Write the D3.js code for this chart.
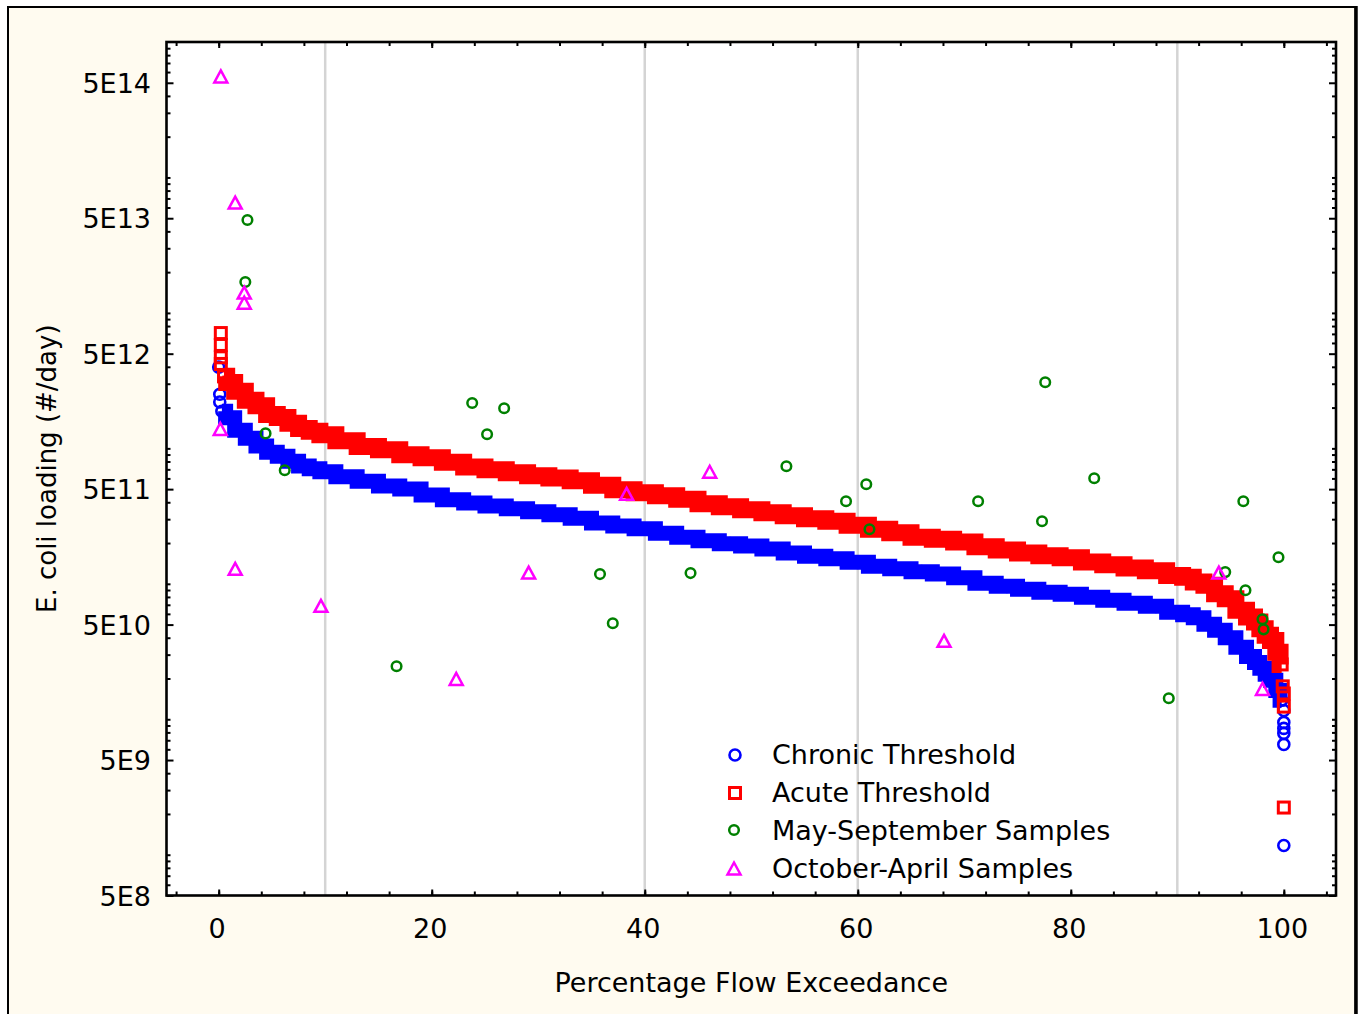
<!DOCTYPE html>
<html>
<head>
<meta charset="utf-8">
<script src="https://cdn.jsdelivr.net/npm/d3@7"></script>
<style>
body { margin: 0; background: #fff; }
svg text { font-family: "DejaVu Sans", sans-serif; fill: #000; }
</style>
</head>
<body>
<div id="chart"></div>
<script>
// load duration curves (percent flow exceedance, #/day)
var acutePct = [0.5, 1, 2, 3, 4, 5, 6, 7, 8, 9, 10, 12, 14, 16, 18, 20, 22, 24, 26, 28, 30, 32, 34, 36, 38, 40,
    42, 44, 46, 48, 50, 52, 54, 56, 58, 60, 62, 64, 66, 68, 70, 72, 74, 76, 78, 80, 82, 84, 86, 88, 90,
    91, 92, 93, 94, 95, 96, 97, 97.5, 98, 98.5, 99, 99.5, 99.8]
var acuteLoad = [3.4e12, 3.06e12, 2.64e12, 2.27e12, 2.06e12, 1.78e12, 1.69e12, 1.53e12, 1.40e12, 1.34e12,
    1.26e12, 1.14e12, 1.03e12, 9.78e11, 8.99e11, 8.54e11, 7.90e11, 7.28e11, 6.95e11, 6.61e11, 6.28e11,
    6.04e11, 5.77e11, 5.34e11, 4.95e11, 4.70e11, 4.47e11, 4.21e11, 3.90e11, 3.71e11, 3.52e11, 3.35e11,
    3.18e11, 3.02e11, 2.90e11, 2.71e11, 2.53e11, 2.38e11, 2.21e11, 2.13e11, 2.04e11, 1.88e11, 1.78e11,
    1.69e11, 1.61e11, 1.56e11, 1.45e11, 1.38e11, 1.31e11, 1.25e11, 1.15e11,
    1.12e11, 1.03e11, 9.75e10, 8.45e10, 7.76e10, 6.37e10, 5.68e10, 5.22e10, 4.66e10, 4.17e10, 3.82e10,
    3.12e10, 2.54e10]

var chronicPct = [0.3, 1, 2, 3, 4, 5, 6, 7, 8, 9, 10, 12, 14, 16, 18, 20, 22, 24, 26, 28, 30, 32, 34, 36, 38, 40,
    42, 44, 46, 48, 50, 52, 54, 56, 58, 60, 62, 64, 66, 68, 70, 72, 74, 76, 78, 80, 82, 84, 86, 88, 90,
    91, 92, 93, 94, 95, 96, 97, 97.5, 98, 98.5, 99, 99.5, 99.8]
var chronicLoad = [1.88e12, 1.68e12, 1.36e12, 1.19e12, 1.04e12, 9.37e11, 8.75e11, 8.04e11, 7.41e11, 7.07e11,
    6.72e11, 6.17e11, 5.72e11, 5.27e11, 5.01e11, 4.52e11, 4.17e11, 3.95e11, 3.75e11, 3.58e11, 3.40e11,
    3.23e11, 3.05e11, 2.81e11, 2.67e11, 2.55e11, 2.36e11, 2.21e11, 2.08e11, 1.98e11, 1.90e11, 1.81e11,
    1.69e11, 1.60e11, 1.53e11, 1.44e11, 1.35e11, 1.29e11, 1.23e11, 1.18e11, 1.11e11, 1.01e11, 9.58e10,
    9.11e10, 8.66e10, 8.37e10, 7.95e10, 7.55e10, 7.18e10, 6.82e10, 6.16e10,
    5.90e10, 5.61e10, 5.02e10, 4.54e10, 3.99e10, 3.40e10, 2.91e10, 2.63e10, 2.38e10, 2.15e10, 1.94e10,
    1.63e10, 1.38e10]

// isolated threshold points at both ends of the curves
var acuteTailPct = [0.2, 0.2, 0.2, 0.2, 99.9, 100, 100, 100]
var acuteTailLoad = [7.1e12, 5.8e12, 4.7e12, 4.2e12, 1.75e10, 1.55e10, 1.24e10, 2.23e9]
var chronicTailPct = [0, 0.1, 0.1, 100, 100, 100, 100, 100, 100]
var chronicTailLoad = [3.98e12, 2.51e12, 2.2e12, 1.16e10, 9.48e9, 8.56e9, 7.87e9, 6.52e9, 1.17e9]

// samples
var mayPct = [2.5, 2.7, 4.4, 6.2, 16.7, 23.8, 25.2, 26.8, 35.8, 37.0, 44.3, 53.3, 58.9, 60.8, 61.1, 71.3,
    77.3, 77.6, 82.2, 89.2, 94.5, 96.2, 96.4, 98.0, 98.1, 99.5]
var mayLoad = [1.69e13, 4.85e13, 1.29e12, 6.89e11, 2.46e10, 2.16e12, 1.27e12, 1.98e12, 1.18e11, 5.11e10,
    1.20e11, 7.38e11, 4.07e11, 5.44e11, 2.53e11, 4.07e11, 2.90e11, 3.08e12, 6.02e11, 1.43e10, 1.22e11,
    4.07e11, 8.96e10, 5.47e10, 4.61e10, 1.57e11]
var octPct = [0.15, 0.2, 1.55, 1.55, 2.4, 2.4, 9.6, 22.3, 29.1, 38.3, 46.1, 68.1, 93.9, 98.0]
var octLoad = [1.38e12, 5.52e14, 6.47e13, 1.28e11, 1.40e13, 1.18e13, 6.82e10, 1.97e10, 1.20e11, 4.58e11,
    6.66e11, 3.76e10, 1.20e11, 1.66e10]

var gridPct = [10, 40, 60, 90]
var xLabels = [0, 20, 40, 60, 80, 100]
var yLabels = [5e8, 5e9, 5e10, 5e11, 5e12, 5e13, 5e14]
var legendNames = ["Chronic Threshold", "Acute Threshold", "May-September Samples", "October-April Samples"]

var blue = "#0000ff", red = "#ff0000", green = "#008000", magenta = "#ff00ff"

var width = 1359, height = 1014
var plotLeft = 166.5, plotRight = 1336, plotTop = 42, plotBottom = 895.5

var svg = d3.select("#chart").append("svg")
    .attr("width", width)
    .attr("height", height)

// cream panel
svg.append("rect")
    .attr("x", 8).attr("y", 7)
    .attr("width", 1347.5).attr("height", 1030)
    .attr("fill", "#fffbf0")
    .attr("stroke", "#000")
    .attr("stroke-width", 2)
svg.append("line")
    .attr("x1", 1356).attr("x2", 1356).attr("y1", 6).attr("y2", height)
    .attr("stroke", "#000").attr("stroke-width", 3.5)

svg.append("rect")
    .attr("x", plotLeft).attr("y", plotTop)
    .attr("width", plotRight - plotLeft).attr("height", plotBottom - plotTop)
    .attr("fill", "#fff")

var x = d3.scaleLinear().domain([-4.9, 104.9]).range([plotLeft, plotRight])
var y = d3.scaleLog().domain([5e8, 1e15]).range([plotBottom, plotTop])

svg.append("g").selectAll("line")
    .data(gridPct)
    .enter().append("line")
    .attr("x1", d => x(d)).attr("x2", d => x(d))
    .attr("y1", plotTop).attr("y2", plotBottom)
    .attr("stroke", "#d4d4d4")
    .attr("stroke-width", 2.5)

// the thresholds are so many overlapping markers that they read as a stepped band
var bandLine = d3.line()
    .x(d => x(d[0]))
    .y(d => y(d[1]))
    .curve(d3.curveStep)

function drawCircles(data, color, r, sw) {
    svg.append("g").selectAll("circle")
        .data(data)
        .enter().append("circle")
        .attr("cx", d => x(d[0]))
        .attr("cy", d => y(d[1]))
        .attr("r", r)
        .attr("fill", "none")
        .attr("stroke", color)
        .attr("stroke-width", sw)
}

function drawSquares(data, color, s, sw) {
    svg.append("g").selectAll("rect")
        .data(data)
        .enter().append("rect")
        .attr("x", d => x(d[0]) - s / 2)
        .attr("y", d => y(d[1]) - s / 2)
        .attr("width", s).attr("height", s)
        .attr("fill", "none")
        .attr("stroke", color)
        .attr("stroke-width", sw)
}

var triangle = "M0,-6.5L6.5,5.5L-6.5,5.5Z"

function drawTriangles(data, color) {
    svg.append("g").selectAll("path")
        .data(data)
        .enter().append("path")
        .attr("transform", d => "translate(" + x(d[0]) + "," + y(d[1]) + ")")
        .attr("d", triangle)
        .attr("fill", "none")
        .attr("stroke", color)
        .attr("stroke-width", 2.5)
}

var chronic = d3.zip(chronicPct, chronicLoad)
var acute = d3.zip(acutePct, acuteLoad)

// chronic threshold (drawn first, acute sits on top)
svg.append("path").datum(chronic)
    .attr("d", bandLine)
    .attr("fill", "none")
    .attr("stroke", blue)
    .attr("stroke-width", 15)
drawCircles(chronic.concat(d3.zip(chronicTailPct, chronicTailLoad)), blue, 5.5, 2.6)

svg.append("path").datum(acute)
    .attr("d", bandLine)
    .attr("fill", "none")
    .attr("stroke", red)
    .attr("stroke-width", 17)
drawSquares(acute.concat(d3.zip(acuteTailPct, acuteTailLoad)), red, 11, 3)

drawCircles(d3.zip(mayPct, mayLoad), green, 4.8, 2.5)
drawTriangles(d3.zip(octPct, octLoad), magenta)

// axes, ticks point inward
function styleAxis(g) {
    g.select(".domain").remove()
    g.selectAll(".tick line").attr("stroke", "#000").attr("stroke-width", 2)
    g.selectAll(".tick text").attr("font-size", 27).attr("fill", "#000")
}

var xMinor = d3.range(-4, 105, 4)
var yMinor = []
d3.range(8, 15).forEach(function(e) {
    d3.range(1, 10).forEach(function(k) {
        var v = k * Math.pow(10, e)
        if (v >= 5e8 && v <= 1e15 && k !== 5) yMinor.push(v)
    })
})

svg.append("g").attr("transform", "translate(0," + plotBottom + ")")
    .call(d3.axisBottom(x).tickValues(xMinor).tickSize(-4).tickFormat(""))
    .call(styleAxis)
svg.append("g").attr("transform", "translate(0," + plotBottom + ")")
    .call(d3.axisBottom(x).tickValues(xLabels).tickSize(-6).tickPadding(23).tickFormat(d3.format("d")))
    .call(styleAxis)
    .selectAll(".tick text").attr("dx", "-2")
svg.append("g").attr("transform", "translate(0," + plotTop + ")")
    .call(d3.axisTop(x).tickValues(xMinor).tickSize(-4).tickFormat(""))
    .call(styleAxis)
svg.append("g").attr("transform", "translate(0," + plotTop + ")")
    .call(d3.axisTop(x).tickValues(xLabels).tickSize(-6).tickFormat(""))
    .call(styleAxis)

svg.append("g").attr("transform", "translate(" + plotLeft + ",0)")
    .call(d3.axisLeft(y).tickValues(yMinor).tickSize(-4).tickFormat(""))
    .call(styleAxis)
svg.append("g").attr("transform", "translate(" + plotLeft + ",0)")
    .call(d3.axisLeft(y).tickValues(yLabels).tickSize(-7).tickPadding(15.5)
        .tickFormat(d => "5E" + Math.round(Math.log10(d / 5))))
    .call(styleAxis)
    .selectAll(".tick text").attr("dy", "0.36em")
svg.append("g").attr("transform", "translate(" + plotRight + ",0)")
    .call(d3.axisRight(y).tickValues(yMinor).tickSize(-4).tickFormat(""))
    .call(styleAxis)
svg.append("g").attr("transform", "translate(" + plotRight + ",0)")
    .call(d3.axisRight(y).tickValues(yLabels).tickSize(-7).tickFormat(""))
    .call(styleAxis)

svg.append("rect")
    .attr("x", plotLeft).attr("y", plotTop)
    .attr("width", plotRight - plotLeft).attr("height", plotBottom - plotTop)
    .attr("fill", "none")
    .attr("stroke", "#000")
    .attr("stroke-width", 2.6)

// titles
svg.append("text")
    .attr("x", (plotLeft + plotRight) / 2).attr("y", 992)
    .attr("text-anchor", "middle")
    .attr("font-size", 27)
    .text("Percentage Flow Exceedance")
svg.append("text")
    .attr("transform", "translate(56," + (plotTop + plotBottom) / 2 + ") rotate(-90)")
    .attr("text-anchor", "middle")
    .attr("font-size", 26)
    .text("E. coli loading (#/day)")

// legend
var legend = svg.append("g").selectAll("g")
    .data(legendNames)
    .enter().append("g")
    .attr("transform", (d, i) => "translate(735," + (754 + i * 38) + ")")

legend.append("text")
    .attr("x", 37).attr("y", 9.5)
    .attr("font-size", 27)
    .text(d => d)

legend.filter((d, i) => i === 0).append("circle")
    .attr("cy", 1).attr("r", 5.5)
    .attr("fill", "none").attr("stroke", blue).attr("stroke-width", 2.6)
legend.filter((d, i) => i === 1).append("rect")
    .attr("x", -5.5).attr("y", -4.5).attr("width", 11).attr("height", 11)
    .attr("fill", "none").attr("stroke", red).attr("stroke-width", 3)
legend.filter((d, i) => i === 2).append("circle")
    .attr("cx", -1).attr("cy", 0).attr("r", 4.8)
    .attr("fill", "none").attr("stroke", green).attr("stroke-width", 2.5)
legend.filter((d, i) => i === 3).append("path")
    .attr("transform", "translate(-1,1)")
    .attr("d", triangle)
    .attr("fill", "none").attr("stroke", magenta).attr("stroke-width", 2.5)
</script>
</body>
</html>
